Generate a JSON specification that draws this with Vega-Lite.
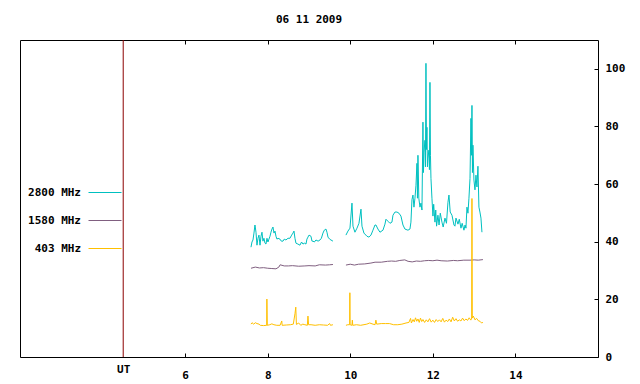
{
  "$schema": "https://vega.github.io/schema/vega-lite/v6.json",
  "width": 578,
  "height": 317,
  "autosize": "none",
  "padding": {"left": 20, "top": 40, "right": 42, "bottom": 27},
  "background": "white",
  "title": {"text": "06 11 2009", "anchor": "middle", "frame": "group", "font": "DejaVu Sans Mono", "fontWeight": "bold", "fontSize": 11, "color": "black", "baseline": "alphabetic", "offset": 6},
  "config": {
    "view": {"stroke": "black", "strokeWidth": 1},
    "axis": {"labelFont": "DejaVu Sans Mono", "labelFontWeight": "bold", "labelFontSize": 11, "labelColor": "black", "tickColor": "black", "domain": false, "grid": false, "title": null}
  },
  "datasets": {"obs": [
    {"t":7.595,"v":38.1,"band":"2800 MHz","seg":1},{"t":7.619,"v":39.9,"band":"2800 MHz","seg":1},{"t":7.643,"v":40.6,"band":"2800 MHz","seg":1},{"t":7.667,"v":43.0,"band":"2800 MHz","seg":1},{"t":7.691,"v":45.8,"band":"2800 MHz","seg":1},{"t":7.716,"v":43.3,"band":"2800 MHz","seg":1},{"t":7.740,"v":38.8,"band":"2800 MHz","seg":1},{"t":7.764,"v":41.2,"band":"2800 MHz","seg":1},{"t":7.788,"v":42.3,"band":"2800 MHz","seg":1},{"t":7.813,"v":38.8,"band":"2800 MHz","seg":1},{"t":7.837,"v":41.9,"band":"2800 MHz","seg":1},{"t":7.861,"v":43.3,"band":"2800 MHz","seg":1},{"t":7.885,"v":40.2,"band":"2800 MHz","seg":1},{"t":7.909,"v":41.2,"band":"2800 MHz","seg":1},{"t":7.934,"v":39.5,"band":"2800 MHz","seg":1},{"t":7.958,"v":39.2,"band":"2800 MHz","seg":1},{"t":7.982,"v":41.2,"band":"2800 MHz","seg":1},{"t":8.006,"v":39.9,"band":"2800 MHz","seg":1},{"t":8.030,"v":40.9,"band":"2800 MHz","seg":1},{"t":8.055,"v":41.9,"band":"2800 MHz","seg":1},{"t":8.079,"v":43.3,"band":"2800 MHz","seg":1},{"t":8.103,"v":44.4,"band":"2800 MHz","seg":1},{"t":8.127,"v":45.1,"band":"2800 MHz","seg":1},{"t":8.152,"v":43.0,"band":"2800 MHz","seg":1},{"t":8.176,"v":43.7,"band":"2800 MHz","seg":1},{"t":8.200,"v":41.9,"band":"2800 MHz","seg":1},{"t":8.224,"v":40.9,"band":"2800 MHz","seg":1},{"t":8.250,"v":41.2,"band":"2800 MHz","seg":1},{"t":8.297,"v":40.9,"band":"2800 MHz","seg":1},{"t":8.330,"v":40.2,"band":"2800 MHz","seg":1},{"t":8.370,"v":40.2,"band":"2800 MHz","seg":1},{"t":8.400,"v":40.9,"band":"2800 MHz","seg":1},{"t":8.442,"v":40.6,"band":"2800 MHz","seg":1},{"t":8.490,"v":41.2,"band":"2800 MHz","seg":1},{"t":8.539,"v":41.2,"band":"2800 MHz","seg":1},{"t":8.580,"v":42.3,"band":"2800 MHz","seg":1},{"t":8.612,"v":43.0,"band":"2800 MHz","seg":1},{"t":8.636,"v":43.7,"band":"2800 MHz","seg":1},{"t":8.660,"v":41.2,"band":"2800 MHz","seg":1},{"t":8.684,"v":39.5,"band":"2800 MHz","seg":1},{"t":8.730,"v":39.2,"band":"2800 MHz","seg":1},{"t":8.781,"v":38.8,"band":"2800 MHz","seg":1},{"t":8.820,"v":39.9,"band":"2800 MHz","seg":1},{"t":8.854,"v":39.2,"band":"2800 MHz","seg":1},{"t":8.890,"v":39.5,"band":"2800 MHz","seg":1},{"t":8.927,"v":39.2,"band":"2800 MHz","seg":1},{"t":8.950,"v":40.9,"band":"2800 MHz","seg":1},{"t":8.975,"v":41.6,"band":"2800 MHz","seg":1},{"t":9.000,"v":42.3,"band":"2800 MHz","seg":1},{"t":9.048,"v":41.9,"band":"2800 MHz","seg":1},{"t":9.072,"v":40.2,"band":"2800 MHz","seg":1},{"t":9.096,"v":40.2,"band":"2800 MHz","seg":1},{"t":9.130,"v":39.9,"band":"2800 MHz","seg":1},{"t":9.169,"v":40.6,"band":"2800 MHz","seg":1},{"t":9.220,"v":40.2,"band":"2800 MHz","seg":1},{"t":9.266,"v":40.6,"band":"2800 MHz","seg":1},{"t":9.300,"v":41.2,"band":"2800 MHz","seg":1},{"t":9.338,"v":43.0,"band":"2800 MHz","seg":1},{"t":9.370,"v":44.0,"band":"2800 MHz","seg":1},{"t":9.411,"v":44.4,"band":"2800 MHz","seg":1},{"t":9.435,"v":43.3,"band":"2800 MHz","seg":1},{"t":9.460,"v":41.6,"band":"2800 MHz","seg":1},{"t":9.500,"v":40.9,"band":"2800 MHz","seg":1},{"t":9.532,"v":40.6,"band":"2800 MHz","seg":1},{"t":9.580,"v":40.2,"band":"2800 MHz","seg":1},
    {"t":9.895,"v":42.3,"band":"2800 MHz","seg":2},{"t":9.944,"v":43.7,"band":"2800 MHz","seg":2},{"t":9.992,"v":44.7,"band":"2800 MHz","seg":2},{"t":10.041,"v":53.4,"band":"2800 MHz","seg":2},{"t":10.065,"v":45.4,"band":"2800 MHz","seg":2},{"t":10.113,"v":43.3,"band":"2800 MHz","seg":2},{"t":10.162,"v":44.7,"band":"2800 MHz","seg":2},{"t":10.210,"v":46.4,"band":"2800 MHz","seg":2},{"t":10.259,"v":51.3,"band":"2800 MHz","seg":2},{"t":10.283,"v":45.4,"band":"2800 MHz","seg":2},{"t":10.331,"v":43.0,"band":"2800 MHz","seg":2},{"t":10.404,"v":41.9,"band":"2800 MHz","seg":2},{"t":10.452,"v":41.6,"band":"2800 MHz","seg":2},{"t":10.501,"v":42.3,"band":"2800 MHz","seg":2},{"t":10.549,"v":44.0,"band":"2800 MHz","seg":2},{"t":10.598,"v":45.8,"band":"2800 MHz","seg":2},{"t":10.622,"v":45.8,"band":"2800 MHz","seg":2},{"t":10.670,"v":44.4,"band":"2800 MHz","seg":2},{"t":10.719,"v":43.3,"band":"2800 MHz","seg":2},{"t":10.791,"v":44.0,"band":"2800 MHz","seg":2},{"t":10.840,"v":46.1,"band":"2800 MHz","seg":2},{"t":10.864,"v":47.8,"band":"2800 MHz","seg":2},{"t":10.913,"v":47.1,"band":"2800 MHz","seg":2},{"t":10.961,"v":46.4,"band":"2800 MHz","seg":2},{"t":11.009,"v":46.8,"band":"2800 MHz","seg":2},{"t":11.034,"v":49.2,"band":"2800 MHz","seg":2},{"t":11.082,"v":50.3,"band":"2800 MHz","seg":2},{"t":11.131,"v":50.3,"band":"2800 MHz","seg":2},{"t":11.179,"v":49.9,"band":"2800 MHz","seg":2},{"t":11.227,"v":48.9,"band":"2800 MHz","seg":2},{"t":11.276,"v":45.8,"band":"2800 MHz","seg":2},{"t":11.324,"v":44.4,"band":"2800 MHz","seg":2},{"t":11.397,"v":44.0,"band":"2800 MHz","seg":2},{"t":11.445,"v":44.4,"band":"2800 MHz","seg":2},{"t":11.469,"v":46.8,"band":"2800 MHz","seg":2},{"t":11.494,"v":54.6,"band":"2800 MHz","seg":2},{"t":11.518,"v":56.2,"band":"2800 MHz","seg":2},{"t":11.542,"v":52.0,"band":"2800 MHz","seg":2},{"t":11.566,"v":55.1,"band":"2800 MHz","seg":2},{"t":11.591,"v":59.6,"band":"2800 MHz","seg":2},{"t":11.615,"v":67.2,"band":"2800 MHz","seg":2},{"t":11.627,"v":55.1,"band":"2800 MHz","seg":2},{"t":11.639,"v":70.0,"band":"2800 MHz","seg":2},{"t":11.660,"v":55.1,"band":"2800 MHz","seg":2},{"t":11.688,"v":52.0,"band":"2800 MHz","seg":2},{"t":11.712,"v":53.4,"band":"2800 MHz","seg":2},{"t":11.736,"v":51.0,"band":"2800 MHz","seg":2},{"t":11.760,"v":81.5,"band":"2800 MHz","seg":2},{"t":11.772,"v":64.0,"band":"2800 MHz","seg":2},{"t":11.785,"v":71.1,"band":"2800 MHz","seg":2},{"t":11.809,"v":75.2,"band":"2800 MHz","seg":2},{"t":11.821,"v":66.0,"band":"2800 MHz","seg":2},{"t":11.833,"v":101.9,"band":"2800 MHz","seg":2},{"t":11.845,"v":72.0,"band":"2800 MHz","seg":2},{"t":11.857,"v":79.7,"band":"2800 MHz","seg":2},{"t":11.869,"v":66.0,"band":"2800 MHz","seg":2},{"t":11.881,"v":69.0,"band":"2800 MHz","seg":2},{"t":11.905,"v":71.8,"band":"2800 MHz","seg":2},{"t":11.917,"v":65.0,"band":"2800 MHz","seg":2},{"t":11.930,"v":95.3,"band":"2800 MHz","seg":2},{"t":11.942,"v":70.0,"band":"2800 MHz","seg":2},{"t":11.954,"v":62.0,"band":"2800 MHz","seg":2},{"t":11.978,"v":55.1,"band":"2800 MHz","seg":2},{"t":12.002,"v":48.9,"band":"2800 MHz","seg":2},{"t":12.020,"v":53.0,"band":"2800 MHz","seg":2},{"t":12.051,"v":46.8,"band":"2800 MHz","seg":2},{"t":12.070,"v":51.0,"band":"2800 MHz","seg":2},{"t":12.090,"v":45.4,"band":"2800 MHz","seg":2},{"t":12.123,"v":49.2,"band":"2800 MHz","seg":2},{"t":12.150,"v":45.8,"band":"2800 MHz","seg":2},{"t":12.180,"v":49.9,"band":"2800 MHz","seg":2},{"t":12.220,"v":46.8,"band":"2800 MHz","seg":2},{"t":12.250,"v":45.1,"band":"2800 MHz","seg":2},{"t":12.293,"v":48.2,"band":"2800 MHz","seg":2},{"t":12.330,"v":46.4,"band":"2800 MHz","seg":2},{"t":12.366,"v":53.7,"band":"2800 MHz","seg":2},{"t":12.390,"v":56.2,"band":"2800 MHz","seg":2},{"t":12.420,"v":50.3,"band":"2800 MHz","seg":2},{"t":12.463,"v":49.2,"band":"2800 MHz","seg":2},{"t":12.511,"v":45.8,"band":"2800 MHz","seg":2},{"t":12.535,"v":45.4,"band":"2800 MHz","seg":2},{"t":12.560,"v":48.2,"band":"2800 MHz","seg":2},{"t":12.608,"v":46.1,"band":"2800 MHz","seg":2},{"t":12.640,"v":47.8,"band":"2800 MHz","seg":2},{"t":12.681,"v":44.7,"band":"2800 MHz","seg":2},{"t":12.710,"v":46.4,"band":"2800 MHz","seg":2},{"t":12.753,"v":44.0,"band":"2800 MHz","seg":2},{"t":12.780,"v":45.8,"band":"2800 MHz","seg":2},{"t":12.802,"v":44.7,"band":"2800 MHz","seg":2},{"t":12.826,"v":52.0,"band":"2800 MHz","seg":2},{"t":12.850,"v":49.9,"band":"2800 MHz","seg":2},{"t":12.874,"v":55.1,"band":"2800 MHz","seg":2},{"t":12.900,"v":62.0,"band":"2800 MHz","seg":2},{"t":12.923,"v":82.8,"band":"2800 MHz","seg":2},{"t":12.935,"v":70.0,"band":"2800 MHz","seg":2},{"t":12.947,"v":87.3,"band":"2800 MHz","seg":2},{"t":12.959,"v":64.0,"band":"2800 MHz","seg":2},{"t":12.971,"v":73.5,"band":"2800 MHz","seg":2},{"t":12.995,"v":61.4,"band":"2800 MHz","seg":2},{"t":13.020,"v":58.0,"band":"2800 MHz","seg":2},{"t":13.044,"v":63.1,"band":"2800 MHz","seg":2},{"t":13.068,"v":59.0,"band":"2800 MHz","seg":2},{"t":13.092,"v":66.2,"band":"2800 MHz","seg":2},{"t":13.116,"v":52.0,"band":"2800 MHz","seg":2},{"t":13.140,"v":50.3,"band":"2800 MHz","seg":2},{"t":13.165,"v":48.2,"band":"2800 MHz","seg":2},{"t":13.189,"v":43.3,"band":"2800 MHz","seg":2},
    {"t":7.595,"v":30.8,"band":"1580 MHz","seg":1},{"t":7.70,"v":31.2,"band":"1580 MHz","seg":1},{"t":7.80,"v":30.9,"band":"1580 MHz","seg":1},{"t":7.90,"v":31.0,"band":"1580 MHz","seg":1},{"t":8.00,"v":30.8,"band":"1580 MHz","seg":1},{"t":8.10,"v":30.7,"band":"1580 MHz","seg":1},{"t":8.20,"v":30.6,"band":"1580 MHz","seg":1},{"t":8.27,"v":31.2,"band":"1580 MHz","seg":1},{"t":8.30,"v":32.0,"band":"1580 MHz","seg":1},{"t":8.40,"v":31.6,"band":"1580 MHz","seg":1},{"t":8.50,"v":31.6,"band":"1580 MHz","seg":1},{"t":8.60,"v":31.7,"band":"1580 MHz","seg":1},{"t":8.75,"v":31.5,"band":"1580 MHz","seg":1},{"t":8.90,"v":31.6,"band":"1580 MHz","seg":1},{"t":9.00,"v":31.7,"band":"1580 MHz","seg":1},{"t":9.15,"v":31.6,"band":"1580 MHz","seg":1},{"t":9.25,"v":32.0,"band":"1580 MHz","seg":1},{"t":9.40,"v":31.9,"band":"1580 MHz","seg":1},{"t":9.50,"v":32.0,"band":"1580 MHz","seg":1},{"t":9.58,"v":32.1,"band":"1580 MHz","seg":1},
    {"t":9.895,"v":31.9,"band":"1580 MHz","seg":2},{"t":10.0,"v":32.2,"band":"1580 MHz","seg":2},{"t":10.1,"v":31.9,"band":"1580 MHz","seg":2},{"t":10.2,"v":32.2,"band":"1580 MHz","seg":2},{"t":10.35,"v":32.3,"band":"1580 MHz","seg":2},{"t":10.5,"v":32.6,"band":"1580 MHz","seg":2},{"t":10.6,"v":32.9,"band":"1580 MHz","seg":2},{"t":10.75,"v":32.9,"band":"1580 MHz","seg":2},{"t":10.9,"v":33.2,"band":"1580 MHz","seg":2},{"t":11.0,"v":33.3,"band":"1580 MHz","seg":2},{"t":11.1,"v":33.2,"band":"1580 MHz","seg":2},{"t":11.2,"v":33.5,"band":"1580 MHz","seg":2},{"t":11.32,"v":33.7,"band":"1580 MHz","seg":2},{"t":11.4,"v":33.2,"band":"1580 MHz","seg":2},{"t":11.5,"v":33.0,"band":"1580 MHz","seg":2},{"t":11.6,"v":33.3,"band":"1580 MHz","seg":2},{"t":11.7,"v":33.2,"band":"1580 MHz","seg":2},{"t":11.8,"v":33.4,"band":"1580 MHz","seg":2},{"t":11.9,"v":33.5,"band":"1580 MHz","seg":2},{"t":12.0,"v":33.4,"band":"1580 MHz","seg":2},{"t":12.1,"v":33.6,"band":"1580 MHz","seg":2},{"t":12.2,"v":33.4,"band":"1580 MHz","seg":2},{"t":12.35,"v":33.3,"band":"1580 MHz","seg":2},{"t":12.5,"v":33.5,"band":"1580 MHz","seg":2},{"t":12.6,"v":33.4,"band":"1580 MHz","seg":2},{"t":12.75,"v":33.6,"band":"1580 MHz","seg":2},{"t":12.9,"v":33.6,"band":"1580 MHz","seg":2},{"t":13.0,"v":33.7,"band":"1580 MHz","seg":2},{"t":13.1,"v":33.6,"band":"1580 MHz","seg":2},{"t":13.213,"v":33.8,"band":"1580 MHz","seg":2},
    {"t":7.595,"v":11.4,"band":"403 MHz","seg":1},{"t":7.62,"v":11.9,"band":"403 MHz","seg":1},{"t":7.66,"v":11.4,"band":"403 MHz","seg":1},{"t":7.70,"v":11.9,"band":"403 MHz","seg":1},{"t":7.74,"v":11.6,"band":"403 MHz","seg":1},{"t":7.79,"v":11.4,"band":"403 MHz","seg":1},{"t":7.82,"v":11.0,"band":"403 MHz","seg":1},{"t":7.90,"v":10.9,"band":"403 MHz","seg":1},{"t":7.975,"v":11.0,"band":"403 MHz","seg":1},{"t":7.98,"v":20.1,"band":"403 MHz","seg":1},{"t":7.99,"v":11.0,"band":"403 MHz","seg":1},{"t":8.05,"v":11.2,"band":"403 MHz","seg":1},{"t":8.10,"v":11.5,"band":"403 MHz","seg":1},{"t":8.15,"v":11.2,"band":"403 MHz","seg":1},{"t":8.22,"v":11.0,"band":"403 MHz","seg":1},{"t":8.30,"v":11.0,"band":"403 MHz","seg":1},{"t":8.34,"v":12.5,"band":"403 MHz","seg":1},{"t":8.35,"v":11.0,"band":"403 MHz","seg":1},{"t":8.45,"v":11.1,"band":"403 MHz","seg":1},{"t":8.55,"v":11.2,"band":"403 MHz","seg":1},{"t":8.62,"v":11.4,"band":"403 MHz","seg":1},{"t":8.66,"v":15.0,"band":"403 MHz","seg":1},{"t":8.68,"v":17.3,"band":"403 MHz","seg":1},{"t":8.695,"v":11.3,"band":"403 MHz","seg":1},{"t":8.75,"v":11.8,"band":"403 MHz","seg":1},{"t":8.80,"v":11.0,"band":"403 MHz","seg":1},{"t":8.85,"v":11.4,"band":"403 MHz","seg":1},{"t":8.90,"v":11.2,"band":"403 MHz","seg":1},{"t":8.96,"v":11.0,"band":"403 MHz","seg":1},{"t":8.975,"v":14.2,"band":"403 MHz","seg":1},{"t":8.99,"v":11.2,"band":"403 MHz","seg":1},{"t":9.05,"v":11.2,"band":"403 MHz","seg":1},{"t":9.15,"v":11.0,"band":"403 MHz","seg":1},{"t":9.25,"v":11.2,"band":"403 MHz","seg":1},{"t":9.35,"v":11.1,"band":"403 MHz","seg":1},{"t":9.45,"v":11.0,"band":"403 MHz","seg":1},{"t":9.50,"v":11.6,"band":"403 MHz","seg":1},{"t":9.52,"v":11.0,"band":"403 MHz","seg":1},{"t":9.58,"v":11.2,"band":"403 MHz","seg":1},
    {"t":9.895,"v":11.0,"band":"403 MHz","seg":2},{"t":9.94,"v":11.2,"band":"403 MHz","seg":2},{"t":9.985,"v":11.2,"band":"403 MHz","seg":2},{"t":9.99,"v":22.3,"band":"403 MHz","seg":2},{"t":9.995,"v":11.2,"band":"403 MHz","seg":2},{"t":10.04,"v":11.0,"band":"403 MHz","seg":2},{"t":10.05,"v":12.8,"band":"403 MHz","seg":2},{"t":10.06,"v":11.0,"band":"403 MHz","seg":2},{"t":10.15,"v":11.2,"band":"403 MHz","seg":2},{"t":10.25,"v":11.0,"band":"403 MHz","seg":2},{"t":10.40,"v":11.4,"band":"403 MHz","seg":2},{"t":10.47,"v":11.8,"band":"403 MHz","seg":2},{"t":10.55,"v":11.4,"band":"403 MHz","seg":2},{"t":10.60,"v":11.2,"band":"403 MHz","seg":2},{"t":10.62,"v":12.8,"band":"403 MHz","seg":2},{"t":10.64,"v":11.4,"band":"403 MHz","seg":2},{"t":10.75,"v":11.6,"band":"403 MHz","seg":2},{"t":10.85,"v":11.6,"band":"403 MHz","seg":2},{"t":10.95,"v":11.6,"band":"403 MHz","seg":2},{"t":11.05,"v":11.2,"band":"403 MHz","seg":2},{"t":11.15,"v":11.2,"band":"403 MHz","seg":2},{"t":11.25,"v":11.4,"band":"403 MHz","seg":2},{"t":11.35,"v":11.8,"band":"403 MHz","seg":2},{"t":11.42,"v":12.0,"band":"403 MHz","seg":2},{"t":11.46,"v":13.4,"band":"403 MHz","seg":2},{"t":11.48,"v":11.8,"band":"403 MHz","seg":2},{"t":11.52,"v":13.0,"band":"403 MHz","seg":2},{"t":11.55,"v":12.2,"band":"403 MHz","seg":2},{"t":11.58,"v":13.6,"band":"403 MHz","seg":2},{"t":11.61,"v":12.4,"band":"403 MHz","seg":2},{"t":11.64,"v":13.2,"band":"403 MHz","seg":2},{"t":11.67,"v":12.0,"band":"403 MHz","seg":2},{"t":11.70,"v":13.5,"band":"403 MHz","seg":2},{"t":11.73,"v":12.3,"band":"403 MHz","seg":2},{"t":11.76,"v":13.0,"band":"403 MHz","seg":2},{"t":11.80,"v":12.0,"band":"403 MHz","seg":2},{"t":11.84,"v":12.9,"band":"403 MHz","seg":2},{"t":11.88,"v":12.2,"band":"403 MHz","seg":2},{"t":11.92,"v":13.3,"band":"403 MHz","seg":2},{"t":11.96,"v":12.1,"band":"403 MHz","seg":2},{"t":12.00,"v":12.8,"band":"403 MHz","seg":2},{"t":12.04,"v":12.0,"band":"403 MHz","seg":2},{"t":12.08,"v":13.0,"band":"403 MHz","seg":2},{"t":12.12,"v":12.3,"band":"403 MHz","seg":2},{"t":12.16,"v":12.9,"band":"403 MHz","seg":2},{"t":12.20,"v":12.2,"band":"403 MHz","seg":2},{"t":12.24,"v":13.4,"band":"403 MHz","seg":2},{"t":12.28,"v":12.1,"band":"403 MHz","seg":2},{"t":12.32,"v":12.8,"band":"403 MHz","seg":2},{"t":12.36,"v":12.3,"band":"403 MHz","seg":2},{"t":12.40,"v":13.2,"band":"403 MHz","seg":2},{"t":12.44,"v":12.2,"band":"403 MHz","seg":2},{"t":12.48,"v":13.8,"band":"403 MHz","seg":2},{"t":12.52,"v":12.5,"band":"403 MHz","seg":2},{"t":12.56,"v":13.3,"band":"403 MHz","seg":2},{"t":12.60,"v":12.4,"band":"403 MHz","seg":2},{"t":12.64,"v":12.9,"band":"403 MHz","seg":2},{"t":12.68,"v":12.5,"band":"403 MHz","seg":2},{"t":12.72,"v":13.5,"band":"403 MHz","seg":2},{"t":12.76,"v":12.6,"band":"403 MHz","seg":2},{"t":12.80,"v":13.2,"band":"403 MHz","seg":2},{"t":12.84,"v":12.7,"band":"403 MHz","seg":2},{"t":12.88,"v":13.6,"band":"403 MHz","seg":2},{"t":12.92,"v":12.8,"band":"403 MHz","seg":2},{"t":12.94,"v":13.5,"band":"403 MHz","seg":2},{"t":12.947,"v":55.0,"band":"403 MHz","seg":2},{"t":12.955,"v":13.5,"band":"403 MHz","seg":2},{"t":12.98,"v":14.2,"band":"403 MHz","seg":2},{"t":13.02,"v":12.9,"band":"403 MHz","seg":2},{"t":13.06,"v":13.4,"band":"403 MHz","seg":2},{"t":13.10,"v":12.6,"band":"403 MHz","seg":2},{"t":13.14,"v":12.4,"band":"403 MHz","seg":2},{"t":13.18,"v":11.8,"band":"403 MHz","seg":2},{"t":13.213,"v":12.0,"band":"403 MHz","seg":2}
  ], "marker": [{"label": "UT", "t": 4.5}]},
  "layer": [
    {
      "data": {"name": "marker"},
      "mark": {"type": "rule", "color": "#8b0000", "strokeWidth": 1},
      "encoding": {
        "x": {"field": "t", "type": "quantitative", "scale": {"domain": [2, 16], "nice": false, "zero": false},
          "axis": {"orient": "top", "values": [6, 8, 10, 12, 14], "labels": false, "tickSize": -4, "domain": false}}
      }
    },
    {
      "data": {"name": "obs"},
      "mark": {"type": "line", "strokeWidth": 1, "clip": true},
      "encoding": {
        "x": {"field": "t", "type": "quantitative", "scale": {"domain": [2, 16], "nice": false, "zero": false},
          "axis": {"orient": "bottom", "values": [4.5, 6, 8, 10, 12, 14], "tickSize": -4,
            "labelExpr": "datum.value == 4.5 ? 'UT' : datum.label",
            "labelPadding": 16,
            "tickOpacity": {"condition": {"test": "datum.value == 4.5", "value": 0}, "value": 1},
            "labelBaseline": {"condition": {"test": "datum.value == 4.5", "value": "middle"}, "value": "top"}}},
        "y": {"field": "v", "type": "quantitative", "scale": {"domain": [0, 110], "nice": false},
          "axis": {"orient": "right", "values": [0, 20, 40, 60, 80, 100], "tickSize": -4, "labelPadding": 11, "labelAlign": "left"}},
        "color": {"field": "band", "type": "nominal",
          "scale": {"domain": ["2800 MHz", "1580 MHz", "403 MHz"], "range": ["#00c0c0", "#805f80", "#ffc000"]},
          "legend": {"orient": "none", "legendX": 68, "legendY": 135.5, "title": null, "symbolType": "stroke", "symbolSize": 1089, "symbolStrokeWidth": 1,
            "labelAlign": "right", "labelOffset": -41, "labelFont": "DejaVu Sans Mono", "labelFontWeight": "bold", "labelFontSize": 11, "labelColor": "black",
            "rowPadding": 6, "padding": 0, "symbolOpacity": 1}},
        "detail": {"field": "seg", "type": "nominal"}
      }
    }
  ],
  "resolve": {"axis": {"x": "independent"}}
}
